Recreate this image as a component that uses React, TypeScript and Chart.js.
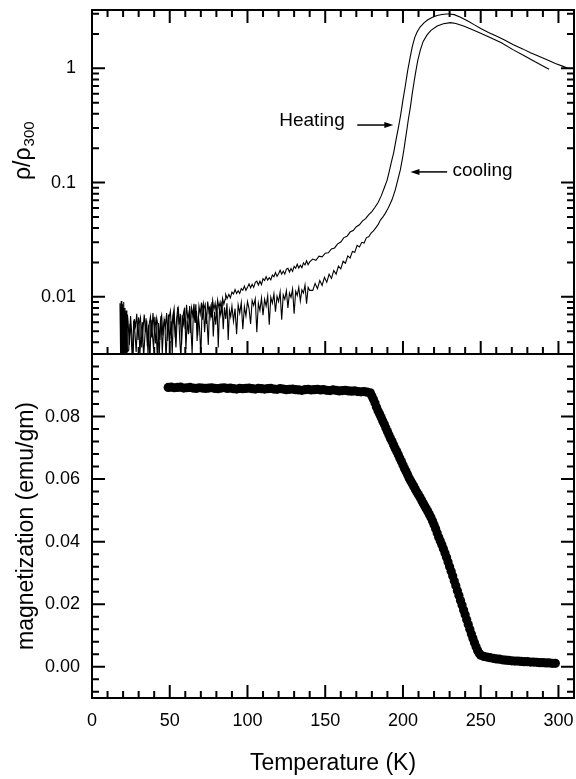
import React, { useEffect, useRef } from 'react';
import { Chart, registerables } from 'chart.js';

Chart.register(...registerables);

// ---------- data ----------
// Heating run: temperature (K) and rho/rho300
const HEAT_T = [
  18.0, 18.4, 18.8, 19.2, 19.6, 20.0, 20.4, 20.8, 21.2, 21.6, 22.0, 22.4, 22.8,
  23.2, 24.0, 24.8, 25.6, 26.4, 27.2, 28.0, 28.8, 29.6, 30.4,
  31.2, 32.0, 32.8, 33.6, 34.4, 35.2, 36.0, 36.8, 37.6, 38.4,
  39.2, 40.0, 40.8, 41.6, 42.4, 43.2, 44.0, 44.8, 45.6, 46.4,
  47.2, 48.0, 48.8, 49.6, 50.4, 51.2, 52.0, 52.8, 53.6, 54.4,
  55.2, 56.0, 56.8, 57.6, 58.4, 59.2, 60.0, 60.8, 61.6, 62.4,
  63.2, 64.0, 64.8, 65.6, 66.4, 67.2, 68.0, 68.8, 69.6, 70.4,
  71.2, 72.0, 72.8, 73.6, 74.4, 75.2, 76.0, 76.8, 77.6, 78.4,
  79.2, 80.0, 80.8, 81.6, 82.4, 83.2, 84.0, 84.8, 85.6,
  86, 87, 88, 89, 90, 91, 92, 93, 94, 95,
  96, 97, 98, 99, 100, 101, 102, 103, 104, 105,
  106, 107, 108, 109, 110, 111, 112, 113, 114, 115,
  116, 117, 118, 119, 120, 121, 122, 123, 124, 125,
  126, 127, 128, 129, 130, 131, 132, 133, 134, 135,
  136, 137, 138, 139, 140,
  142, 144, 146, 148, 150, 152, 154, 156, 158, 160,
  162, 164, 166, 168, 170, 172, 174, 176, 178, 180,
  182, 184, 186,
  188, 189.8, 191, 192.5,
  194, 195.5, 197, 198.5, 200, 201.5, 203, 204.5, 206, 207.5,
  209, 211, 213.5, 216, 219, 222, 225, 228, 230, 233,
  237, 242, 246, 250, 255, 260, 265, 271, 277, 282,
  287, 293, 298, 303, 306,
];
const HEAT_R = [
  0.0088, 0.0030, 0.0092, 0.0029, 0.0086, 0.0031, 0.0090, 0.0030, 0.0080, 0.0033, 0.0076, 0.0035, 0.0070,
  0.0061, 0.0038, 0.0068, 0.0047, 0.0030, 0.0064, 0.0055, 0.0071, 0.0042, 0.0059,
  0.0066, 0.0036, 0.0052, 0.0070, 0.0049, 0.0062, 0.0031, 0.0058, 0.0067, 0.0044,
  0.0072, 0.0053, 0.0039, 0.0065, 0.0057, 0.0028, 0.0061, 0.0069, 0.0046, 0.0063,
  0.0054, 0.0072, 0.0041, 0.0066, 0.0075, 0.0050, 0.0068, 0.0079, 0.0044, 0.0063,
  0.0082, 0.0057, 0.0071, 0.0038, 0.0067, 0.0076, 0.0052, 0.0085, 0.0064, 0.0073,
  0.0048, 0.0080, 0.0069, 0.0087, 0.0059, 0.0075, 0.0046, 0.0083, 0.0071, 0.0089,
  0.0063, 0.0079, 0.0086, 0.0058, 0.0091, 0.0074, 0.0082, 0.0066, 0.0093, 0.0077,
  0.0088, 0.0070, 0.0094, 0.0081, 0.0090, 0.0076, 0.0097, 0.0086, 0.0095,
  0.0105, 0.0097, 0.0105, 0.0098, 0.0110, 0.0106, 0.0116, 0.0107, 0.0113, 0.0107,
  0.0118, 0.0114, 0.0124, 0.0114, 0.0121, 0.0130, 0.0120, 0.0129, 0.0121, 0.0134,
  0.0137, 0.0127, 0.0137, 0.0128, 0.0144, 0.0139, 0.0150, 0.0140, 0.0147, 0.0141,
  0.0155, 0.0150, 0.0163, 0.0151, 0.0159, 0.0171, 0.0158, 0.0168, 0.0158, 0.0175,
  0.0178, 0.0165, 0.0177, 0.0167, 0.0185, 0.0178, 0.0193, 0.0179, 0.0189, 0.0180,
  0.0198, 0.0190, 0.0207, 0.0191, 0.0202,
  0.0214, 0.0209, 0.0227, 0.0224, 0.0241, 0.0243, 0.0263, 0.0268, 0.0291, 0.0302,
  0.0330, 0.0339, 0.0369, 0.0380, 0.0411, 0.0427, 0.0462, 0.0484, 0.0525, 0.0558,
  0.0608, 0.0670, 0.0765,
  0.090, 0.105, 0.122, 0.150,
  0.182, 0.235, 0.300, 0.39, 0.53, 0.70, 0.95, 1.22, 1.55, 1.85,
  2.07, 2.30, 2.50, 2.66, 2.80, 2.90, 2.96, 2.99, 2.99, 2.95,
  2.80, 2.58, 2.40, 2.23, 2.06, 1.92, 1.78, 1.61, 1.48, 1.37,
  1.28, 1.18, 1.10, 1.04, 1.00,
];

// Cooling run: temperature (K) and rho/rho300
const COOL_T = [
  19.2, 19.6, 20.0, 20.4, 20.8, 21.2, 21.6, 22.0, 22.4, 22.8,
  23.6, 24.4, 25.2, 26.0, 26.8, 27.6, 28.4, 29.2, 30.0, 30.8,
  31.6, 32.4, 33.2, 34.0, 34.8, 35.6, 36.4, 37.2, 38.0, 38.8,
  39.6, 40.4, 41.2, 42.0, 42.8, 43.6, 44.4, 45.2, 46.0, 46.8,
  47.6, 48.4, 49.2, 50.0, 50.8, 51.6, 52.4, 53.2, 54.0, 54.8,
  55.6, 56.4, 57.2, 58.0, 58.8, 59.6, 60.4, 61.2, 62.0, 62.8,
  63.6, 64.4, 65.2, 66.0, 66.8, 67.6, 68.4, 69.2, 70.0, 70.8,
  71.6, 72.4, 73.2, 74.0, 74.8, 75.6, 76.4, 77.2, 78.0, 78.8,
  79.6, 80.4, 81.2, 82.0, 82.8, 83.6, 84.4, 85.2, 86.0, 86.8,
  87.6, 88.4, 89.2,
  90, 91, 92, 93, 94, 95, 96, 97, 98, 99,
  100, 101, 102, 103, 104, 105, 106, 107, 108, 109,
  110, 111, 112, 113, 114, 115, 116, 117, 118, 119,
  120, 121, 122, 123, 124, 125, 126, 127, 128, 129,
  130, 131, 132, 133, 134, 135, 136, 137, 138, 139,
  140,
  142.0, 143.5, 145.0, 146.5, 148.0,
  149.5, 151.0, 152.5, 154.0, 155.5, 157.0, 158.5, 160.0, 161.5, 163.0,
  164.5, 166.0, 167.5, 169.0, 170.5, 172.0, 173.5, 175.0, 176.5, 178.0,
  179.5, 181.0, 182.5, 184.0, 185.5, 187.0, 188.5, 190, 191.5, 193,
  194, 195, 196, 197, 198.3, 199.5, 200.5, 201.5, 202.5, 203.5,
  204.8, 205.8, 207, 208, 209.5, 211.2, 213, 215.5, 218, 222,
  226, 230.5, 234, 239, 244, 250, 256, 263, 271, 278,
  285, 290, 294,
];
const COOL_R = [
  0.0075, 0.0029, 0.0080, 0.0030, 0.0073, 0.0028, 0.0070, 0.0031, 0.0066, 0.0033,
  0.0034, 0.0058, 0.0044, 0.0027, 0.0062, 0.0049, 0.0033, 0.0056, 0.0066, 0.0031,
  0.0051, 0.0060, 0.0029, 0.0045, 0.0065, 0.0037, 0.0057, 0.0026, 0.0063, 0.0048,
  0.0035, 0.0067, 0.0053, 0.0030, 0.0059, 0.0042, 0.0068, 0.0032, 0.0055, 0.0064,
  0.0028, 0.0052, 0.0070, 0.0039, 0.0061, 0.0031, 0.0073, 0.0054, 0.0036, 0.0066,
  0.0077, 0.0043, 0.0029, 0.0069, 0.0058, 0.0080, 0.0035, 0.0062, 0.0047, 0.0083,
  0.0055, 0.0032, 0.0074, 0.0064, 0.0086, 0.0041, 0.0068, 0.0053, 0.0030, 0.0079,
  0.0088, 0.0049, 0.0071, 0.0060, 0.0038, 0.0082, 0.0067, 0.0090, 0.0045, 0.0074,
  0.0057, 0.0085, 0.0036, 0.0078, 0.0069, 0.0091, 0.0052, 0.0081, 0.0064, 0.0088,
  0.0042, 0.0076, 0.0067,
  0.0083, 0.0061, 0.0079, 0.0047, 0.0085, 0.0072, 0.0089, 0.0052, 0.0082, 0.0068,
  0.0091, 0.0079, 0.0058, 0.0093, 0.0084, 0.0096, 0.0049, 0.0088, 0.0076, 0.0098,
  0.0069, 0.0095, 0.0083, 0.0102, 0.0057, 0.0099, 0.0088, 0.0106, 0.0074, 0.0101,
  0.0091, 0.0110, 0.0063, 0.0104, 0.0095, 0.0113, 0.0080, 0.0108, 0.0099, 0.0117,
  0.0071, 0.0112, 0.0103, 0.0121, 0.0092, 0.0115, 0.0108, 0.0127, 0.0087, 0.0121,
  0.0114,
  0.0114, 0.0131, 0.0118, 0.0139, 0.0126,
  0.0148, 0.0134, 0.0158, 0.0145, 0.0170, 0.0158, 0.0186, 0.0176, 0.0205, 0.0197,
  0.0228, 0.0219, 0.0250, 0.0245, 0.0282, 0.0273, 0.0300, 0.0296, 0.0330, 0.0335,
  0.0362, 0.0378, 0.0402, 0.0428, 0.0470, 0.0498, 0.0535, 0.058, 0.064, 0.071,
  0.078, 0.086, 0.097, 0.110, 0.129, 0.158, 0.190, 0.235, 0.29, 0.36,
  0.46, 0.58, 0.74, 0.90, 1.17, 1.45, 1.72, 1.96, 2.15, 2.35,
  2.46, 2.51, 2.47, 2.35, 2.20, 2.03, 1.86, 1.68, 1.45, 1.29,
  1.14, 1.05, 0.98,
];

// Magnetization: temperature (K) and emu/gm
const MAG_T = [
  49, 51, 53, 55, 57, 59, 61, 63, 65, 67,
  69, 71, 73, 75, 77, 79, 81, 83, 85, 87,
  89, 91, 93, 95, 97, 99, 101, 103, 105, 107,
  109, 111, 113, 115, 117, 119, 121, 123, 125, 127,
  129, 131, 133, 135, 137, 139, 141, 143, 145, 147,
  149, 151, 153, 155, 157, 159, 161, 163, 165, 167,
  169, 171, 173, 175, 177, 179,
  180, 181, 182, 183, 184, 185, 186, 187, 188, 189,
  190, 191, 192, 193, 194, 195, 196, 197, 198, 199,
  200, 201, 202, 203, 204, 205, 206, 207, 208, 209,
  210, 211, 212, 213, 214, 215, 216, 217, 218, 219,
  220, 221, 222, 223, 224, 225, 226, 227, 228, 229,
  230, 231, 232, 233, 234, 235, 236, 237, 238, 239,
  240, 241, 242, 243, 244, 245, 246, 247, 248, 249,
  250, 252, 254, 256, 258, 260, 262, 264, 266, 268,
  270, 272, 274, 276, 278, 280, 282, 284, 286, 288,
  290, 292, 294, 296, 298,
];
const MAG_M = [
  0.0893, 0.0894, 0.0892, 0.0893, 0.0894, 0.0891, 0.0892, 0.0893, 0.0891, 0.0890,
  0.0892, 0.0891, 0.0890, 0.0891, 0.0892, 0.0890, 0.0889, 0.0891, 0.0892, 0.0890,
  0.0891, 0.0889, 0.0888, 0.0890, 0.0889, 0.0890, 0.0891, 0.0889, 0.0888, 0.0890,
  0.0889, 0.0888, 0.0889, 0.0890, 0.0888, 0.0887, 0.0889, 0.0888, 0.0886, 0.0887,
  0.0888, 0.0886, 0.0885, 0.0884, 0.0886, 0.0887, 0.0885, 0.0886, 0.0887, 0.0885,
  0.0886, 0.0884, 0.0883, 0.0885, 0.0884, 0.0882, 0.0883, 0.0884, 0.0882, 0.0881,
  0.0882, 0.0880, 0.0879, 0.0880, 0.0878, 0.0876,
  0.0866, 0.0855, 0.0843, 0.0830, 0.0818, 0.0808, 0.0797, 0.0786, 0.0775, 0.0763,
  0.0752, 0.0741, 0.0730, 0.0720, 0.0709, 0.0698, 0.0688, 0.0678, 0.0667, 0.0656,
  0.0645, 0.0634, 0.0624, 0.0614, 0.0603, 0.0594, 0.0585, 0.0576, 0.0567, 0.0558,
  0.0550, 0.0541, 0.0532, 0.0523, 0.0514, 0.0505, 0.0496, 0.0487, 0.0477, 0.0466,
  0.0454, 0.0441, 0.0428, 0.0414, 0.0402, 0.0390, 0.0377, 0.0364, 0.0350, 0.0335,
  0.0320, 0.0305, 0.0290, 0.0274, 0.0259, 0.0243, 0.0228, 0.0212, 0.0197, 0.0181,
  0.0166, 0.0150, 0.0135, 0.0120, 0.0105, 0.0090, 0.0077, 0.0064, 0.0052, 0.0043,
  0.0037, 0.0033, 0.0031, 0.0029, 0.0027, 0.0025, 0.0024, 0.0022, 0.0021, 0.0020,
  0.0019, 0.0018, 0.0018, 0.0017, 0.0016, 0.0016, 0.0015, 0.0015, 0.0014, 0.0013,
  0.0013, 0.0012, 0.0012, 0.0011, 0.0011,
];

const T_TICKS = [0, 50, 100, 150, 200, 250, 300];
const T_LABELS = ['0', '50', '100', '150', '200', '250', '300'];
const RHO_TICKS = [0.01, 0.1, 1];
const RHO_LABELS = ['0.01', '0.1', '1'];
const MAG_TICKS = [0, 0.02, 0.04, 0.06, 0.08];
const MAG_LABELS = ['0.00', '0.02', '0.04', '0.06', '0.08'];

const T_MIN = 0;
const T_MAX = 310;
const RHO_MIN = 0.00316;
const RHO_MAX = 3.24;
const MAG_MIN = -0.01;
const MAG_MAX = 0.1;

// annotation anchors in data coordinates (temperature, rho/rho300)
const HEAT_LABEL = { text: 'Heating', t: 141.5, v: 0.35 };
const HEAT_ARROW = { from: 170.6, to: 193.8, v: 0.319 };
const COOL_LABEL = { text: 'cooling', t: 231.8, v: 0.127 };
const COOL_ARROW = { from: 228.4, to: 204.8, v: 0.124 };

const FONT = "'Liberation Sans', Arial, Helvetica, sans-serif";
const INK = '#000000';

function drawArrow(ctx: CanvasRenderingContext2D, x0: number, x1: number, y: number) {
  const dir = Math.sign(x1 - x0);
  const head = 9;
  ctx.beginPath();
  ctx.moveTo(x0, y);
  ctx.lineTo(x1 - dir * head * 0.8, y);
  ctx.lineWidth = 1.5;
  ctx.stroke();
  ctx.beginPath();
  ctx.moveTo(x1, y);
  ctx.lineTo(x1 - dir * head, y - 3);
  ctx.lineTo(x1 - dir * head, y + 3);
  ctx.closePath();
  ctx.fill();
}

const framePlugin = {
  id: 'frameTicks',
  beforeDatasetDraw(chart: any, args: any) {
    const { xScale, yScale } = args.meta;
    const ctx = chart.ctx;
    ctx.save();
    ctx.beginPath();
    ctx.rect(xScale.left, yScale.top, xScale.right - xScale.left, yScale.bottom - yScale.top);
    ctx.clip();
  },
  afterDatasetDraw(chart: any) {
    chart.ctx.restore();
  },
  afterDraw(chart: any) {
    const ctx: CanvasRenderingContext2D = chart.ctx;
    const x = chart.scales.x;
    const y1 = chart.scales.y1;
    const y2 = chart.scales.y2;
    const L = x.left;
    const R = x.right;
    const MAJ = 13;
    const MIN = 7;
    ctx.save();
    ctx.strokeStyle = INK;
    ctx.fillStyle = INK;
    ctx.lineWidth = 2;

    ctx.beginPath();
    // temperature ticks
    for (let i = 0; i * 10 <= T_MAX; i++) {
      const t = i * 10;
      const px = x.getPixelForValue(t);
      const len = i % 5 === 0 ? MAJ : MIN;
      ctx.moveTo(px, y1.top); ctx.lineTo(px, y1.top + len);
      ctx.moveTo(px, y1.bottom); ctx.lineTo(px, y1.bottom - len);
      ctx.moveTo(px, y2.bottom); ctx.lineTo(px, y2.bottom - len);
    }
    // log ticks
    for (let e = -3; e <= 0; e++) {
      for (let k = 1; k <= 9; k++) {
        const v = k * Math.pow(10, e);
        if (v < RHO_MIN || v > RHO_MAX) continue;
        const py = y1.getPixelForValue(v);
        const len = k === 1 ? MAJ : MIN;
        ctx.moveTo(L, py); ctx.lineTo(L + len, py);
        ctx.moveTo(R, py); ctx.lineTo(R - len, py);
      }
    }
    // magnetization ticks
    for (let i = -2; i <= 24; i++) {
      const v = i * 0.004;
      const py = y2.getPixelForValue(v);
      const len = i % 5 === 0 ? MAJ : MIN;
      ctx.moveTo(L, py); ctx.lineTo(L + len, py);
      ctx.moveTo(R, py); ctx.lineTo(R - len, py);
    }
    ctx.stroke();

    // frames
    ctx.strokeRect(L, y1.top, R - L, y1.bottom - y1.top);
    ctx.strokeRect(L, y2.top, R - L, y2.bottom - y2.top);

    // annotations
    ctx.font = `19px ${FONT}`;
    ctx.textBaseline = 'middle';
    ctx.textAlign = 'center';
    ctx.fillText(HEAT_LABEL.text, x.getPixelForValue(HEAT_LABEL.t), y1.getPixelForValue(HEAT_LABEL.v));
    ctx.textAlign = 'left';
    ctx.fillText(COOL_LABEL.text, x.getPixelForValue(COOL_LABEL.t), y1.getPixelForValue(COOL_LABEL.v));
    drawArrow(ctx, x.getPixelForValue(HEAT_ARROW.from), x.getPixelForValue(HEAT_ARROW.to), y1.getPixelForValue(HEAT_ARROW.v));
    drawArrow(ctx, x.getPixelForValue(COOL_ARROW.from), x.getPixelForValue(COOL_ARROW.to), y1.getPixelForValue(COOL_ARROW.v));

    // rho / rho_300 axis title
    const cx = 24;
    const cy = (y1.top + y1.bottom) / 2 - 2;
    ctx.save();
    ctx.translate(cx, cy);
    ctx.rotate(-Math.PI / 2);
    ctx.textAlign = 'left';
    ctx.textBaseline = 'middle';
    ctx.font = `23px ${FONT}`;
    const main = 'ρ/ρ';
    ctx.fillText(main, 0, 0);
    const w = ctx.measureText(main).width;
    ctx.font = `15px ${FONT}`;
    ctx.fillText('300', w + 1, 6);
    ctx.restore();

    ctx.restore();
  },
};

export default function App() {
  const ref = useRef<HTMLCanvasElement | null>(null);

  useEffect(() => {
    if (!ref.current) return;
    Chart.defaults.font.family = FONT;
    Chart.defaults.color = INK;

    const tickFont = { size: 18, family: FONT };

    const chart = new Chart(ref.current, {
      type: 'line',
      data: {
        datasets: [
          {
            label: 'Heating',
            data: HEAT_T.map((t, i) => ({ x: t, y: HEAT_R[i] })),
            xAxisID: 'x',
            yAxisID: 'y1',
            borderColor: INK,
            borderWidth: 1.1,
            pointRadius: 0,
            tension: 0,
            fill: false,
          },
          {
            label: 'cooling',
            data: COOL_T.map((t, i) => ({ x: t, y: COOL_R[i] })),
            xAxisID: 'x',
            yAxisID: 'y1',
            borderColor: INK,
            borderWidth: 1.1,
            pointRadius: 0,
            tension: 0,
            fill: false,
          },
          {
            label: 'magnetization',
            data: MAG_T.map((t, i) => ({ x: t, y: MAG_M[i] })),
            xAxisID: 'x',
            yAxisID: 'y2',
            showLine: false,
            pointRadius: 4.6,
            pointBackgroundColor: INK,
            pointBorderColor: INK,
            pointBorderWidth: 0,
          },
        ],
      },
      options: {
        responsive: false,
        animation: false,
        events: [],
        layout: { autoPadding: false, padding: { top: 10, right: 2, left: 0, bottom: 0 } },
        plugins: {
          legend: { display: false },
          tooltip: { enabled: false },
        },
        scales: {
          x: {
            type: 'linear',
            position: 'bottom',
            min: T_MIN,
            max: T_MAX,
            grid: { display: false, drawTicks: false },
            border: { display: false },
            afterBuildTicks: (s: any) => { s.ticks = T_TICKS.map((v) => ({ value: v })); },
            afterFit: (s: any) => {
              s.height = 81;
              s.paddingLeft = 0; s.paddingRight = 0; s.paddingTop = 0; s.paddingBottom = 0;
            },
            ticks: {
              autoSkip: false,
              maxRotation: 0,
              minRotation: 0,
              padding: 12,
              color: INK,
              font: tickFont,
              callback: (v: any) => T_LABELS[T_TICKS.indexOf(Number(v))] ?? '',
            },
            title: {
              display: true,
              text: 'Temperature (K)',
              color: INK,
              font: { size: 23, family: FONT },
              padding: { top: 2, bottom: 2 },
            },
          },
          y1: {
            type: 'logarithmic',
            position: 'left',
            stack: 'panels',
            stackWeight: 1,
            weight: 1,
            min: RHO_MIN,
            max: RHO_MAX,
            grid: { display: false, drawTicks: false },
            border: { display: false },
            afterBuildTicks: (s: any) => { s.ticks = RHO_TICKS.map((v) => ({ value: v })); },
            afterFit: (s: any) => {
              s.width = 92;
              s.paddingLeft = 0; s.paddingRight = 0; s.paddingTop = 0; s.paddingBottom = 0;
            },
            ticks: {
              autoSkip: false,
              padding: 16,
              color: INK,
              font: tickFont,
              callback: (v: any) => RHO_LABELS[RHO_TICKS.indexOf(Number(v))] ?? '',
            },
          },
          y2: {
            type: 'linear',
            position: 'left',
            stack: 'panels',
            stackWeight: 1,
            weight: 0,
            min: MAG_MIN,
            max: MAG_MAX,
            grid: { display: false, drawTicks: false },
            border: { display: false },
            afterBuildTicks: (s: any) => { s.ticks = MAG_TICKS.map((v) => ({ value: v })); },
            afterFit: (s: any) => {
              s.width = 92;
              s.paddingLeft = 0; s.paddingRight = 0; s.paddingTop = 0; s.paddingBottom = 0;
            },
            ticks: {
              autoSkip: false,
              padding: 12,
              color: INK,
              font: tickFont,
              callback: (v: any) => MAG_LABELS[MAG_TICKS.indexOf(Number(v))] ?? '',
            },
            title: {
              display: true,
              text: 'magnetization (emu/gm)',
              color: INK,
              font: { size: 23, family: FONT },
              padding: { top: 13, bottom: 13 },
            },
          },
        },
      } as any,
      plugins: [framePlugin as any],
    });

    return () => chart.destroy();
  }, []);

  return (
    <div style={{ position: 'absolute', left: 0, top: 0, width: 576, height: 779, background: '#ffffff' }}>
      <canvas ref={ref} width={576} height={779} style={{ display: 'block', width: 576, height: 779 }} />
    </div>
  );
}
